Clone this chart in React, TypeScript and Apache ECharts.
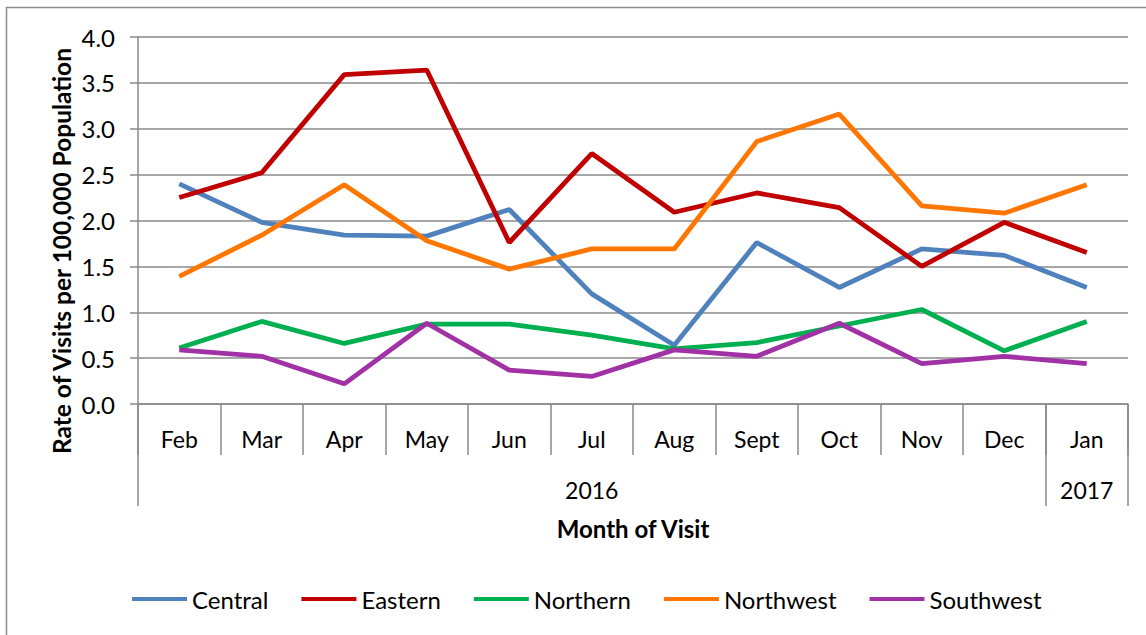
import React, { useEffect, useRef } from "react";
import * as echarts from "echarts";

const months = ["Feb", "Mar", "Apr", "May", "Jun", "Jul", "Aug", "Sept", "Oct", "Nov", "Dec", "Jan"];
const yearLabels: Record<number, string> = { 5: "2016", 11: "2017" };
const yearBoundaries = [0, 11];

const central = [2.40, 1.98, 1.84, 1.83, 2.12, 1.20, 0.64, 1.76, 1.27, 1.69, 1.62, 1.27];
const eastern = [2.25, 2.52, 3.59, 3.64, 1.76, 2.73, 2.09, 2.30, 2.14, 1.50, 1.98, 1.65];
const northern = [0.61, 0.90, 0.66, 0.87, 0.87, 0.75, 0.60, 0.67, 0.85, 1.03, 0.58, 0.90];
const northwest = [1.39, 1.84, 2.39, 1.78, 1.47, 1.69, 1.69, 2.86, 3.16, 2.16, 2.08, 2.39];
const southwest = [0.59, 0.52, 0.22, 0.88, 0.37, 0.30, 0.59, 0.52, 0.88, 0.44, 0.52, 0.44];

const seriesDefs = [
  { name: "Central", data: central, color: "#4F81BD" },
  { name: "Eastern", data: eastern, color: "#C00000" },
  { name: "Northern", data: northern, color: "#00B050" },
  { name: "Northwest", data: northwest, color: "#FF7700" },
  { name: "Southwest", data: southwest, color: "#A032A6" },
];

const FONT = "Lato";
const GRAY = "#8a8a8a";

export default function App() {
  const ref = useRef<HTMLDivElement>(null);
  useEffect(() => {
    const chart = echarts.init(ref.current!, null, { renderer: "svg" });
    chart.setOption({
      animation: false,
      backgroundColor: "#ffffff",
      textStyle: { fontFamily: FONT },
      grid: { left: 138, right: 18, top: 37, bottom: 231, containLabel: false },
      legend: {
        left: 127,
        top: 582,
        icon: "rect",
        itemWidth: 55,
        itemHeight: 4,
        itemGap: 33,
        itemTextGap: 4,
        textStyle: { fontFamily: FONT, fontSize: 24, color: "#000" },
        data: seriesDefs.map((s) => s.name),
      },
      xAxis: [
        {
          type: "category",
          data: months,
          boundaryGap: true,
          axisLine: { show: true, lineStyle: { color: GRAY, width: 1.5 } },
          axisTick: { show: true, length: 51, interval: 0, lineStyle: { color: GRAY, width: 1.5 } },
          axisLabel: { interval: 0, margin: 23, fontSize: 23, color: "#000", fontFamily: FONT },
        },
        {
          type: "category",
          data: months,
          position: "bottom",
          offset: 0,
          boundaryGap: true,
          axisLine: { show: false },
          axisTick: {
            show: true,
            length: 102,
            interval: (i: number) => yearBoundaries.includes(i),
            lineStyle: { color: GRAY, width: 1.5 },
          },
          axisLabel: {
            interval: 0,
            margin: 74,
            fontSize: 23,
            color: "#000",
            fontFamily: FONT,
            formatter: (_v: string, i: number) => yearLabels[i] || "",
          },
          name: "Month of Visit",
          nameLocation: "middle",
          nameGap: 112,
          nameTextStyle: { fontSize: 24, fontWeight: "bold", color: "#000", fontFamily: FONT },
        },
      ],
      yAxis: {
        type: "value",
        min: 0,
        max: 4,
        interval: 0.5,
        axisLine: { show: true, lineStyle: { color: GRAY, width: 1.5 } },
        axisTick: { show: true, length: 8, lineStyle: { color: GRAY, width: 1.5 } },
        axisLabel: { margin: 23, fontSize: 24, color: "#000", fontFamily: FONT, formatter: (v: number) => v.toFixed(1) },
        splitLine: { show: true, lineStyle: { color: GRAY, width: 1.5 } },
      },
      graphic: [
        {
          type: "rect",
          shape: { x: 6.5, y: 7.5, width: 1300, height: 800 },
          style: { fill: "none", stroke: GRAY, lineWidth: 1.5 },
          silent: true,
        },
        {
          type: "text",
          x: 61,
          y: 251,
          rotation: Math.PI / 2,
          style: {
            text: "Rate of Visits per 100,000 Population",
            fontFamily: FONT,
            fontSize: 24.5,
            fontWeight: "bold",
            fill: "#000",
            align: "center",
            verticalAlign: "middle",
          },
        },
      ],
      series: seriesDefs.map((s) => ({
        name: s.name,
        type: "line",
        xAxisIndex: 0,
        data: s.data,
        showSymbol: false,
        symbol: "none",
        color: s.color,
        lineStyle: { color: s.color, width: 4.8 },
      })),
    });
    return () => chart.dispose();
  }, []);
  return <div ref={ref} style={{ position: "fixed", left: 0, top: 0, width: 1146, height: 635 }} />;
}
